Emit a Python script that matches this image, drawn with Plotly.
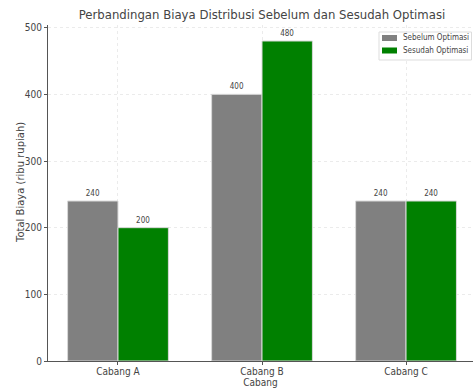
import plotly.graph_objects as go

categories = ["Cabang A", "Cabang B", "Cabang C"]
sebelum = [240, 400, 240]
sesudah = [200, 480, 240]
series_names = ["Sebelum Optimasi", "Sesudah Optimasi"]
series_colors = ["#808080", "#008000"]
y_ticks = [0, 100, 200, 300, 400, 500]

FONT = "DejaVu Sans Condensed, DejaVu Sans"
TXT = "#444444"

# plot area in pixels (for placing the hand-drawn legend)
PL, PR, PT, PB = 48, 473, 25, 361
def px(x):
    return (x - PL) / (PR - PL)
def py(y):
    return (PB - y) / (PB - PT)

fig = go.Figure()
for name, vals, col in zip(series_names, [sebelum, sesudah], series_colors):
    fig.add_trace(go.Bar(
        x=categories, y=vals, name=name,
        marker=dict(color=col, line=dict(color="#d8d8d8", width=1)),
        text=[str(v) for v in vals], textposition="outside",
        textfont=dict(size=8, color=TXT, family=FONT), cliponaxis=False,
        showlegend=False,
    ))

shapes = [dict(type="rect", xref="paper", yref="paper",
               x0=px(379), x1=px(471.5), y0=py(60), y1=py(32),
               line=dict(color="#dddddd", width=1), fillcolor="rgba(255,255,255,0.9)",
               layer="above")]
annotations = []
for i, (name, col) in enumerate(zip(series_names, series_colors)):
    cy = 38 + i * 12.5
    shapes.append(dict(type="rect", xref="paper", yref="paper",
                       x0=px(382), x1=px(397), y0=py(cy + 3), y1=py(cy - 3),
                       line=dict(width=0), fillcolor=col, layer="above"))
    annotations.append(dict(text=name, xref="paper", yref="paper",
                            x=px(401), y=py(cy), xanchor="left", yanchor="middle",
                            showarrow=False, font=dict(size=8, color=TXT, family=FONT)))
annotations.append(dict(
    text="Total Biaya (ribu rupiah)", textangle=-90,
    xref="paper", yref="paper",
    x=px(20), y=py(183),
    xanchor="center", yanchor="middle", showarrow=False,
    font=dict(size=10, color=TXT, family="DejaVu Sans"),
))

fig.update_layout(
    width=473, height=392,
    margin=dict(l=PL, r=473 - PR, t=PT, b=392 - PB),
    paper_bgcolor="white", plot_bgcolor="white",
    barmode="group", bargap=0.3, bargroupgap=0,
    font=dict(family=FONT, size=10, color=TXT),
    showlegend=False,
    title=dict(text="Perbandingan Biaya Distribusi Sebelum dan Sesudah Optimasi",
               x=(48 + 476) / 2 / 473, xanchor="center", y=1 - 14 / 392, yanchor="middle",
               font=dict(size=13, color=TXT, family=FONT)),
    xaxis=dict(
        range=[-0.486, 2.465],
        showline=True, linecolor="#555555", linewidth=1, mirror=False,
        ticks="outside", ticklen=3, tickcolor="#555555",
        ticklabelstandoff=-2,
        showgrid=True, gridcolor="#ebebeb", griddash="dot", gridwidth=1,
        tickfont=dict(size=10, color=TXT),
        title=dict(text="Cabang", standoff=2, font=dict(size=10, color=TXT)),
    ),
    yaxis=dict(
        range=[0, 504], tickvals=y_ticks,
        showline=True, linecolor="#555555", linewidth=1,
        ticks="outside", ticklen=3, tickcolor="#555555",
        showgrid=True, gridcolor="#ebebeb", griddash="dot", gridwidth=1,
        zeroline=False,
        tickfont=dict(size=10, color=TXT),
    ),
    shapes=shapes,
    annotations=annotations,
)

fig.write_html("out.html")
